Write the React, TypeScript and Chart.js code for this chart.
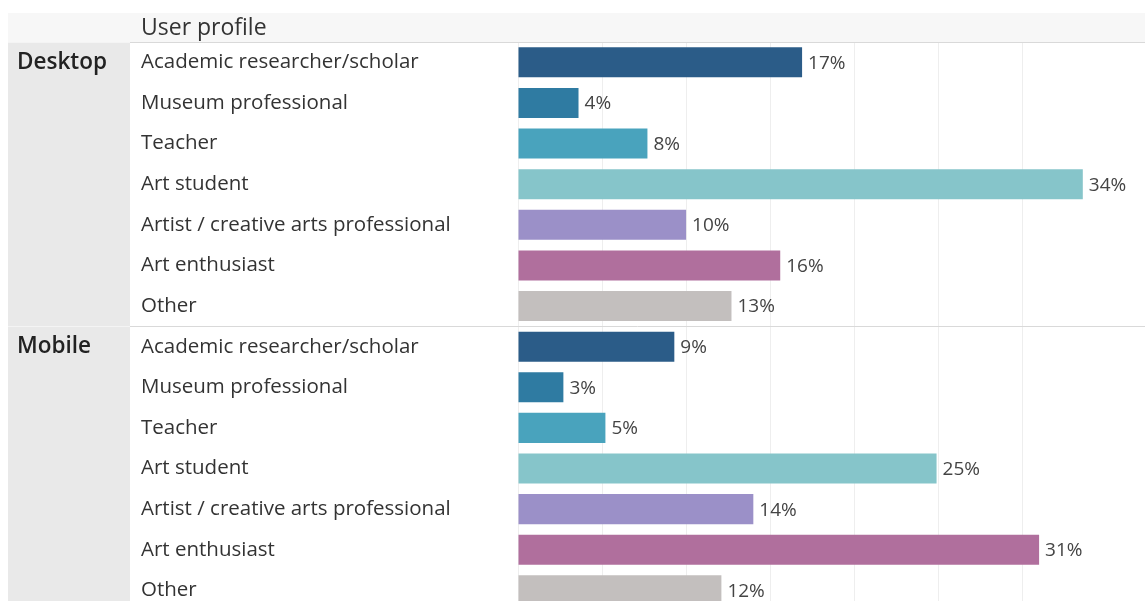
import React, { useEffect, useRef } from "react";
import { Chart, registerables } from "chart.js";
Chart.register(...registerables);

const headerTitle = "User profile";
const groups = ["Desktop", "Mobile"];
const categories = [
  "Academic researcher/scholar",
  "Museum professional",
  "Teacher",
  "Art student",
  "Artist / creative arts professional",
  "Art enthusiast",
  "Other",
];
const desktopValues = [16.9, 3.6, 7.7, 33.6, 10.0, 15.6, 12.7];
const mobileValues = [9.3, 2.7, 5.2, 24.9, 14.0, 31.0, 12.1];
const categoryColors = ["#2b5c88", "#2f7ba2", "#49a3bd", "#86c5ca", "#9b90c8", "#b06f9d", "#c3bfbe"];
const xMax = 37.3;
const xStep = 5;

const FONT = "'Open Sans', sans-serif";

const decorPlugin = {
  id: "decor",
  beforeDraw(chart: any) {
    const { ctx, chartArea, width, height } = chart;
    ctx.save();
    ctx.fillStyle = "#ffffff";
    ctx.fillRect(0, 0, width, height);
    // header band
    ctx.fillStyle = "#f7f7f7";
    ctx.fillRect(8, 13, width - 8, chartArea.top - 13);
    // group column
    ctx.fillStyle = "#e9e9e9";
    ctx.fillRect(8, chartArea.top, 122, height - chartArea.top);
    ctx.restore();
  },
  afterDraw(chart: any) {
    const { ctx, chartArea, width } = chart;
    const yScale = chart.scales.y;
    const xScale = chart.scales.x;
    ctx.save();
    // header title
    ctx.fillStyle = "#333333";
    ctx.font = `23px ${FONT}`;
    ctx.textAlign = "left";
    ctx.textBaseline = "alphabetic";
    ctx.fillText(headerTitle, 141, 35);
    // lines
    const n = categories.length;
    const lines = [chartArea.top];
    for (let g = 1; g < groups.length; g++) {
      const a = yScale.getPixelForValue(g * n - 1);
      const b = yScale.getPixelForValue(g * n);
      lines.push((a + b) / 2);
    }
    lines.forEach((ly) => {
      const yy = Math.round(ly) + 0.5;
      ctx.strokeStyle = "#f4f4f4";
      ctx.lineWidth = 1;
      ctx.beginPath();
      ctx.moveTo(8, yy);
      ctx.lineTo(130, yy);
      ctx.stroke();
      ctx.strokeStyle = "#d9d9d9";
      ctx.beginPath();
      ctx.moveTo(130, yy);
      ctx.lineTo(width, yy);
      ctx.stroke();
    });
    // group labels
    ctx.fillStyle = "#222222";
    ctx.font = `600 22.5px ${FONT}`;
    ctx.textBaseline = "middle";
    groups.forEach((g, gi) => {
      ctx.fillText(g, 17, yScale.getPixelForValue(gi * n));
    });
    // value labels
    const meta = chart.getDatasetMeta(0);
    const data = chart.data.datasets[0].data as number[];
    ctx.fillStyle = "#444444";
    ctx.font = `19px ${FONT}`;
    meta.data.forEach((bar: any, i: number) => {
      const v = data[i];
      ctx.fillText(`${Math.round(v)}%`, xScale.getPixelForValue(v) + 6, bar.y + 1);
    });
    ctx.restore();
  },
};

export default function App() {
  const ref = useRef<HTMLCanvasElement>(null);
  useEffect(() => {
    const labels = [...categories, ...categories];
    const values = [...desktopValues, ...mobileValues];
    const colors = [...categoryColors, ...categoryColors];
    const chart = new Chart(ref.current!, {
      type: "bar",
      data: {
        labels,
        datasets: [
          {
            data: values,
            backgroundColor: colors,
            borderWidth: 0,
            barPercentage: 0.74,
            categoryPercentage: 1,
          },
        ],
      },
      options: {
        indexAxis: "y",
        animation: false,
        responsive: true,
        maintainAspectRatio: false,
        layout: { padding: { left: 141, top: 42, right: 0, bottom: 0 } },
        plugins: { legend: { display: false }, tooltip: { enabled: false } },
        scales: {
          x: {
            min: 0,
            max: xMax,
            ticks: { display: false, stepSize: xStep },
            grid: { color: "#eeeeee", drawTicks: false, lineWidth: 1 },
            border: { display: false },
          },
          y: {
            ticks: {
              crossAlign: "far",
              color: "#333333",
              font: { family: "'Open Sans', sans-serif", size: 20.5 },
              autoSkip: false,
            },
            grid: { display: false },
            border: { display: false },
            afterFit: (scale: any) => {
              scale.width = 518 - 141;
            },
          },
        },
      },
      plugins: [decorPlugin],
    });
    return () => chart.destroy();
  }, []);
  return (
    <div style={{ position: "fixed", left: 0, top: 0, width: 1145, height: 601, overflow: "hidden", background: "#fff" }}>
      <div style={{ position: "relative", width: 1145, height: 626 }}>
        <canvas ref={ref} />
      </div>
    </div>
  );
}
